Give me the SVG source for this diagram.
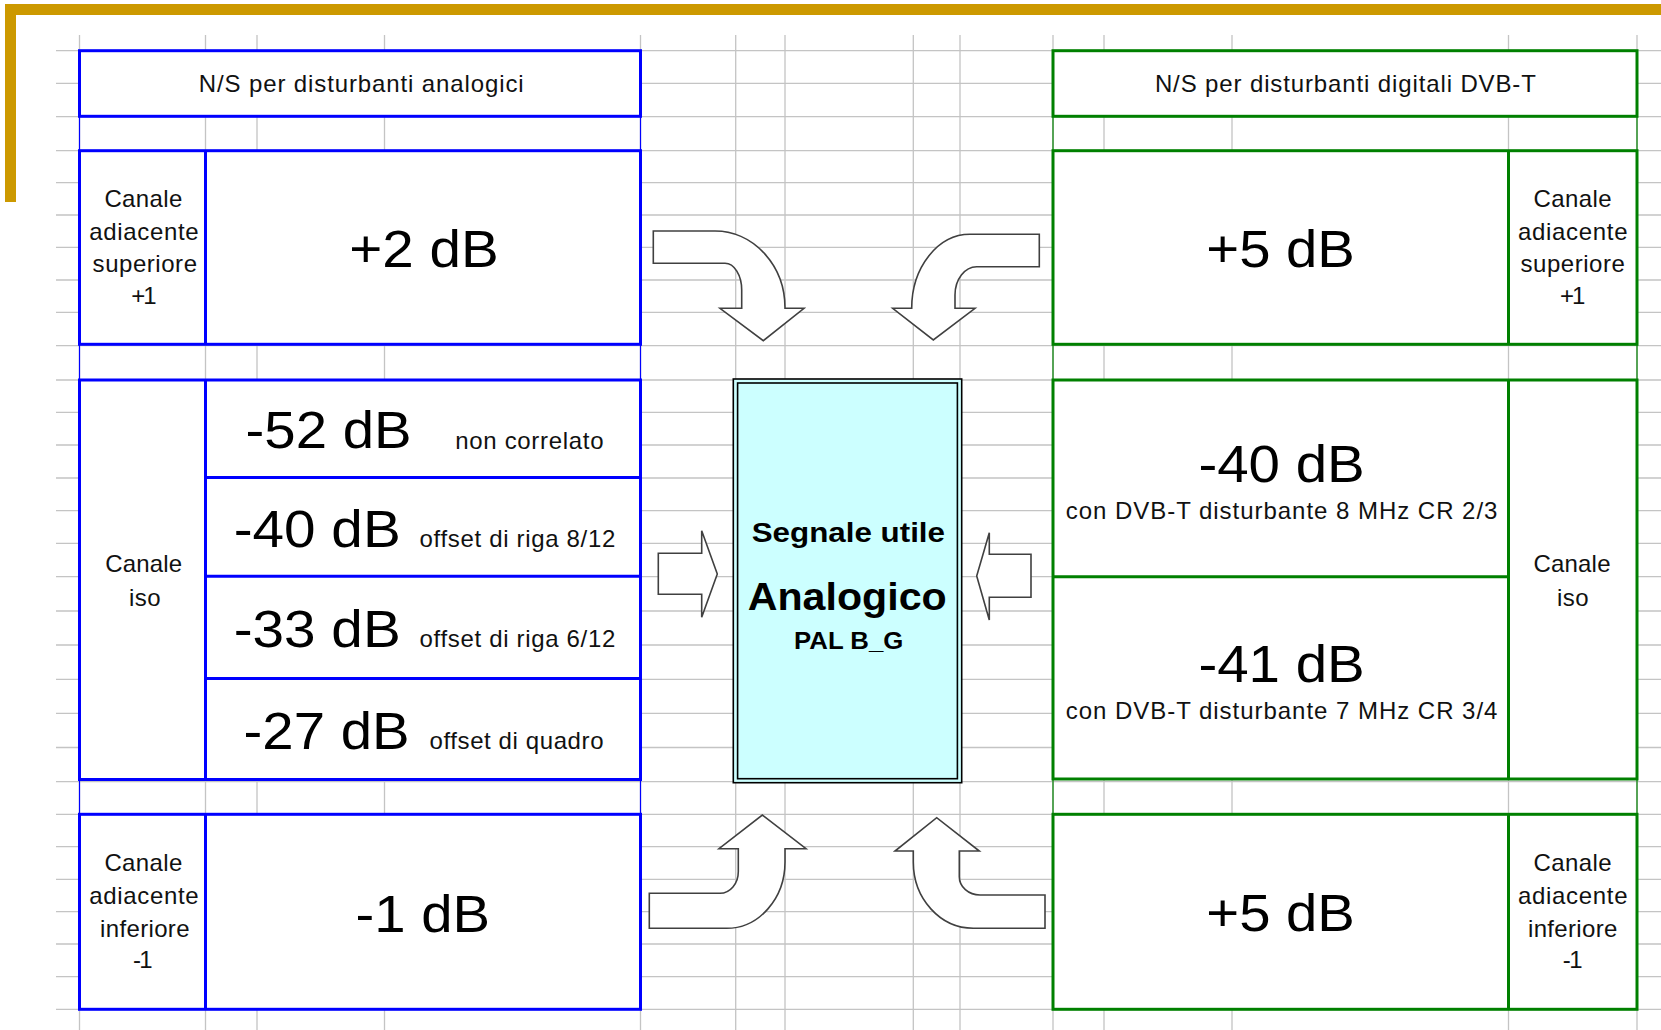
<svg xmlns="http://www.w3.org/2000/svg" width="1661" height="1030" viewBox="0 0 1661 1030">
<style>
.grid{stroke:#c4c4c4;stroke-width:1.3;fill:none}
.bbox{fill:#fff;stroke:#0000ff;stroke-width:3}
.bline{stroke:#0000ff;stroke-width:3;fill:none}
.bthin{stroke:#0000ff;stroke-width:1.2;fill:none}
.gbox{fill:#fff;stroke:#008000;stroke-width:3}
.gline{stroke:#008000;stroke-width:3;fill:none}
.gthin{stroke:#008000;stroke-width:1.2;fill:none}
.s{font-family:"Liberation Sans",Arial,sans-serif;font-size:24px;fill:#111}
.b{font-family:"Liberation Sans",Arial,sans-serif;font-size:51px;fill:#000}
.c{font-family:"Liberation Sans",Arial,sans-serif;font-weight:bold;fill:#000}
.arrow{fill:#fff;stroke:#404040;stroke-width:1.6;stroke-linejoin:miter}
</style>
<rect x="0" y="0" width="1661" height="1030" fill="#fff"/>
<g id="frame" fill="#cc9900">
<rect x="5" y="4" width="1656" height="11"/>
<rect x="5" y="4" width="11" height="198"/>
</g>
<g id="grid">
<path class="grid" d="M56 50.7H1661M56 83.3H1661M56 116.7H1661M56 150.7H1661M56 182.7H1661M56 215H1661M56 247.3H1661M56 280H1661M56 312.3H1661M56 345.7H1661M56 380H1661M56 412.3H1661M56 445H1661M56 478H1661M56 510.7H1661M56 543.3H1661M56 576.7H1661M56 611H1661M56 645H1661M56 679.3H1661M56 713.3H1661M56 747.5H1661M56 781.7H1661M56 814.3H1661M56 846.7H1661M56 879.3H1661M56 911.7H1661M56 944H1661M56 976.7H1661M56 1009.3H1661"/>
<path class="grid" d="M79.5 35V1030M205.5 35V1030M257 35V1030M384.5 35V1030M640.5 35V1030M735.7 35V1030M785 35V1030M913.3 35V1030M960 35V1030M1053 35V1030M1104 35V1030M1232 35V1030M1508.5 35V1030M1637 35V1030"/>
</g>
<g id="left-side-lines">
<path class="bthin" d="M79.5 50.7V1009.3M640.5 50.7V1009.3"/>
</g>
<g id="right-side-lines">
<path class="gthin" d="M1053 50.7V1009.3M1637 50.7V1009.3"/>
</g>
<g id="header-analog">
<rect class="bbox" x="79.5" y="50.7" width="561" height="65.6"/>
<text class="s" x="198.7" y="91.7" textLength="325" lengthAdjust="spacing">N/S per disturbanti analogici</text>
</g>
<g id="analog-upper">
<rect class="bbox" x="79.5" y="150.7" width="561" height="193.6"/>
<path class="bline" d="M205.5 150.7V344.3"/>
<text class="s" x="104.4" y="206.7" textLength="78" lengthAdjust="spacing">Canale</text>
<text class="s" x="89.2" y="240" textLength="109.5" lengthAdjust="spacing">adiacente</text>
<text class="s" x="92.6" y="271.7" textLength="104.4" lengthAdjust="spacing">superiore</text>
<text class="s" x="131.3" y="304" textLength="25.3" lengthAdjust="spacing">+1</text>
<text class="b" x="349.3" y="266.7" textLength="149.4" lengthAdjust="spacingAndGlyphs">+2 dB</text>
</g>
<g id="analog-iso">
<rect class="bbox" x="79.5" y="380" width="561" height="399.5"/>
<path class="bline" d="M205.5 380V779.5M205.5 477.5H640.5M205.5 576.3H640.5M205.5 678.5H640.5"/>
<text class="s" x="105.2" y="571.7" textLength="77" lengthAdjust="spacing">Canale</text>
<text class="s" x="129" y="605.7" textLength="31.6" lengthAdjust="spacing">iso</text>
<text class="b" x="245.6" y="448.3" textLength="166" lengthAdjust="spacingAndGlyphs">-52 dB</text>
<text class="s" x="455.2" y="449" textLength="148.3" lengthAdjust="spacing">non correlato</text>
<text class="b" x="233.7" y="546.7" textLength="167" lengthAdjust="spacingAndGlyphs">-40 dB</text>
<text class="s" x="419.6" y="546.7" textLength="195.7" lengthAdjust="spacing">offset di riga 8/12</text>
<text class="b" x="233.7" y="646.7" textLength="167" lengthAdjust="spacingAndGlyphs">-33 dB</text>
<text class="s" x="419.6" y="646.7" textLength="195.7" lengthAdjust="spacing">offset di riga 6/12</text>
<text class="b" x="243.6" y="749.3" textLength="166" lengthAdjust="spacingAndGlyphs">-27 dB</text>
<text class="s" x="429.5" y="749.3" textLength="174" lengthAdjust="spacing">offset di quadro</text>
</g>
<g id="analog-lower">
<rect class="bbox" x="79.5" y="814.3" width="561" height="195"/>
<path class="bline" d="M205.5 814.3V1009.3"/>
<text class="s" x="104.4" y="870.7" textLength="78" lengthAdjust="spacing">Canale</text>
<text class="s" x="89.2" y="904" textLength="109.5" lengthAdjust="spacing">adiacente</text>
<text class="s" x="100.1" y="936.7" textLength="89.4" lengthAdjust="spacing">inferiore</text>
<text class="s" x="132.9" y="968.3" textLength="19.8" lengthAdjust="spacing">-1</text>
<text class="b" x="355.5" y="931.7" textLength="134.5" lengthAdjust="spacingAndGlyphs">-1 dB</text>
</g>
<g id="header-digital">
<rect class="gbox" x="1053" y="50.7" width="584" height="65.6"/>
<text class="s" x="1154.9" y="91.7" textLength="381" lengthAdjust="spacing">N/S per disturbanti digitali DVB-T</text>
</g>
<g id="digital-upper">
<rect class="gbox" x="1053" y="150.7" width="584" height="193.6"/>
<path class="gline" d="M1508.5 150.7V344.3"/>
<text class="b" x="1206.3" y="266.7" textLength="148.6" lengthAdjust="spacingAndGlyphs">+5 dB</text>
<text class="s" x="1533.5" y="206.7" textLength="78" lengthAdjust="spacing">Canale</text>
<text class="s" x="1518" y="240" textLength="109.5" lengthAdjust="spacing">adiacente</text>
<text class="s" x="1520.5" y="271.7" textLength="104.4" lengthAdjust="spacing">superiore</text>
<text class="s" x="1560" y="304" textLength="25.3" lengthAdjust="spacing">+1</text>
</g>
<g id="digital-iso">
<rect class="gbox" x="1053" y="380" width="584" height="399"/>
<path class="gline" d="M1508.5 380V779M1053 576.7H1508.5"/>
<text class="b" x="1198.4" y="481.7" textLength="166.4" lengthAdjust="spacingAndGlyphs">-40 dB</text>
<text class="s" x="1065.7" y="519" textLength="431.7" lengthAdjust="spacing">con DVB-T disturbante 8 MHz CR 2/3</text>
<text class="b" x="1198.4" y="681.7" textLength="166.4" lengthAdjust="spacingAndGlyphs">-41 dB</text>
<text class="s" x="1065.7" y="719" textLength="431.7" lengthAdjust="spacing">con DVB-T disturbante 7 MHz CR 3/4</text>
<text class="s" x="1533.5" y="571.7" textLength="77" lengthAdjust="spacing">Canale</text>
<text class="s" x="1557" y="605.7" textLength="31.6" lengthAdjust="spacing">iso</text>
</g>
<g id="digital-lower">
<rect class="gbox" x="1053" y="814.3" width="584" height="195"/>
<path class="gline" d="M1508.5 814.3V1009.3"/>
<text class="b" x="1206.3" y="930.5" textLength="148.6" lengthAdjust="spacingAndGlyphs">+5 dB</text>
<text class="s" x="1533.5" y="870.7" textLength="78" lengthAdjust="spacing">Canale</text>
<text class="s" x="1518" y="904" textLength="109.5" lengthAdjust="spacing">adiacente</text>
<text class="s" x="1528" y="936.7" textLength="89.4" lengthAdjust="spacing">inferiore</text>
<text class="s" x="1562.8" y="968.3" textLength="19.8" lengthAdjust="spacing">-1</text>
</g>
<g id="segnale-utile">
<rect x="733.3" y="379" width="228.4" height="403.7" fill="#ccffff" stroke="#000" stroke-width="1.6"/>
<rect x="737.6" y="383" width="219.8" height="395.7" fill="none" stroke="#000" stroke-width="1.6"/>
<text class="c" x="751.7" y="542.3" font-size="27.5" textLength="193.3" lengthAdjust="spacingAndGlyphs">Segnale utile</text>
<text class="c" x="747.7" y="610" font-size="38" textLength="199" lengthAdjust="spacingAndGlyphs">Analogico</text>
<text class="c" x="794" y="649.3" font-size="24.5" textLength="109.3" lengthAdjust="spacingAndGlyphs">PAL B_G</text>
</g>
<g id="connectors">
<path class="arrow" d="M653.3 231L715 231A70 77 0 0 1 785 308.3L804 308.3L763.3 340.7L720 308.3L741.7 308.3L741.7 290A16.7 26.7 0 0 0 725 263.3L653.3 263.3Z"/>
<path class="arrow" d="M1039.3 234.3L970 234.3A58.3 74 0 0 0 911.7 308.3L892.7 308.3L933.3 340L975 308.3L955 308.3L955 295A21.7 28.3 0 0 1 976.7 266.7L1039.3 266.7Z"/>
<path class="arrow" d="M658.3 553.3L701.7 553.3L701.7 530.7L717.3 574L701.7 617.3L701.7 594.3L658.3 594.3Z"/>
<path class="arrow" d="M1031 554.3L989.3 554.3L989.3 532.7L976.7 576L989.3 620L989.3 597.3L1031 597.3Z"/>
<path class="arrow" d="M649.3 893.3L720 893.3A18.3 21.6 0 0 0 738.3 871.7L738.3 848.7L719 848.7L762.3 815L806 848.7L785 848.7L785 862A58.3 66.3 0 0 1 726.7 928.3L649.3 928.3Z"/>
<path class="arrow" d="M1045 895L980 895A20.7 18.3 0 0 1 959.3 876.7L959.3 851L979.3 851L936.7 817.7L895 851L913.3 851L913.3 862A60 66.3 0 0 0 973.3 928.3L1045 928.3Z"/>
</g>
</svg>
